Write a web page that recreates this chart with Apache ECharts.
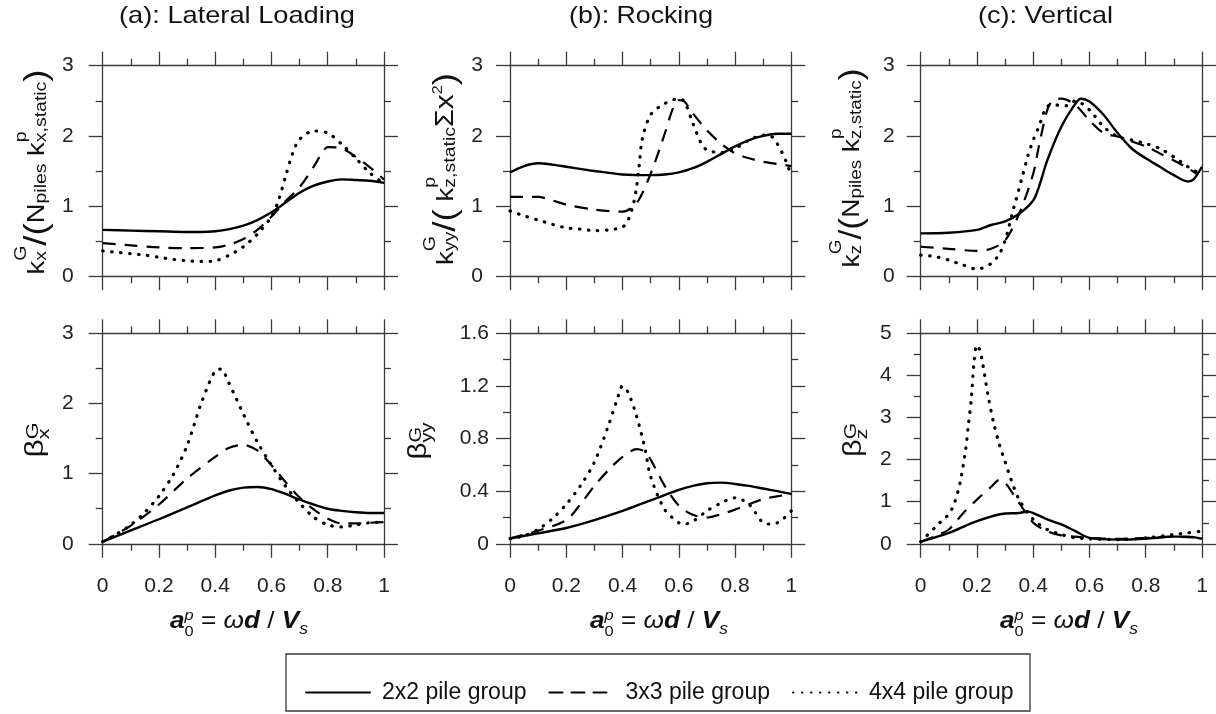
<!DOCTYPE html>
<html>
<head>
<meta charset="utf-8">
<title>Pile group impedance functions</title>
<script src="https://cdn.jsdelivr.net/npm/echarts@6/dist/echarts.min.js"></script>
<style>
  html, body { margin: 0; padding: 0; background: #fff; }
  #chart { width: 1216px; height: 714px; }
</style>
</head>
<body>
<div id="chart"></div>
<script>
// axis ranges [min, max, interval]
const xRange = [0, 1, 0.2];
const kRange = [0, 3, 1];
const betaXRange = [0, 3, 1];
const betaYYRange = [0, 1.6, 0.4];
const betaZRange = [0, 5, 1];

const groupNames = ['2x2 pile group', '3x3 pile group', '4x4 pile group'];
const panelTitles = ['(a): Lateral Loading', '(b): Rocking', '(c): Vertical'];

// (a) lateral stiffness, [a0, value]
const kxSolid = [[0,0.66],[0.1,0.65],[0.2,0.64],[0.3,0.63],[0.35,0.63],[0.4,0.64],[0.45,0.67],[0.5,0.72],[0.55,0.80],[0.6,0.91],[0.65,1.05],[0.7,1.19],[0.75,1.29],[0.8,1.35],[0.85,1.38],[0.9,1.37],[0.95,1.36],[1,1.33]];
const kxDash = [[0,0.47],[0.1,0.44],[0.2,0.41],[0.3,0.40],[0.4,0.41],[0.45,0.45],[0.5,0.53],[0.55,0.66],[0.6,0.85],[0.65,1.07],[0.7,1.27],[0.75,1.56],[0.78,1.76],[0.8,1.84],[0.85,1.82],[0.9,1.70],[0.95,1.55],[1,1.38]];
const kxDot = [[0,0.36],[0.05,0.34],[0.1,0.32],[0.15,0.30],[0.2,0.27],[0.25,0.24],[0.3,0.22],[0.35,0.21],[0.4,0.22],[0.45,0.30],[0.5,0.42],[0.55,0.60],[0.6,0.85],[0.625,1.08],[0.65,1.42],[0.675,1.75],[0.7,1.95],[0.75,2.07],[0.8,2.04],[0.85,1.88],[0.9,1.68],[0.95,1.47],[1,1.32]];
// (a) lateral damping
const bxSolid = [[0,0.03],[0.1,0.19],[0.2,0.35],[0.3,0.52],[0.4,0.69],[0.45,0.76],[0.5,0.80],[0.55,0.81],[0.6,0.78],[0.65,0.71],[0.7,0.63],[0.75,0.56],[0.8,0.50],[0.85,0.47],[0.9,0.45],[0.95,0.44],[1,0.44]];
const bxDash = [[0,0.03],[0.1,0.26],[0.2,0.56],[0.3,0.93],[0.4,1.24],[0.45,1.37],[0.5,1.41],[0.55,1.33],[0.6,1.12],[0.65,0.88],[0.7,0.66],[0.75,0.49],[0.8,0.36],[0.85,0.29],[0.9,0.29],[0.95,0.30],[1,0.31]];
const bxDot = [[0,0.03],[0.05,0.14],[0.1,0.27],[0.15,0.45],[0.2,0.68],[0.25,0.98],[0.3,1.40],[0.35,2.00],[0.4,2.47],[0.42,2.49],[0.45,2.28],[0.5,1.85],[0.55,1.45],[0.6,1.12],[0.65,0.82],[0.7,0.58],[0.75,0.38],[0.8,0.27],[0.85,0.24],[0.9,0.27],[0.95,0.30],[1,0.31]];
// (b) rocking stiffness
const kyySolid = [[0,1.48],[0.05,1.57],[0.1,1.61],[0.15,1.59],[0.2,1.56],[0.3,1.50],[0.4,1.45],[0.5,1.44],[0.55,1.45],[0.6,1.48],[0.65,1.54],[0.7,1.63],[0.75,1.74],[0.8,1.85],[0.85,1.94],[0.9,2.00],[0.95,2.03],[1,2.03]];
const kyyDash = [[0,1.13],[0.1,1.13],[0.15,1.08],[0.2,1.02],[0.3,0.95],[0.4,0.92],[0.45,1.04],[0.5,1.46],[0.55,2.03],[0.58,2.40],[0.6,2.51],[0.62,2.49],[0.65,2.32],[0.7,2.08],[0.75,1.89],[0.8,1.75],[0.85,1.68],[0.9,1.63],[0.95,1.60],[1,1.57]];
const kyyDot = [[0,0.93],[0.05,0.86],[0.1,0.80],[0.15,0.74],[0.2,0.69],[0.25,0.67],[0.3,0.65],[0.35,0.66],[0.4,0.70],[0.42,0.80],[0.44,1.05],[0.45,1.27],[0.46,1.60],[0.47,1.95],[0.5,2.30],[0.55,2.46],[0.6,2.53],[0.62,2.49],[0.65,2.18],[0.68,1.89],[0.7,1.80],[0.75,1.76],[0.8,1.82],[0.85,1.94],[0.9,2.01],[0.93,1.99],[0.95,1.89],[0.98,1.65],[1,1.42]];
// (b) rocking damping
const byySolid = [[0,0.04],[0.1,0.08],[0.2,0.12],[0.3,0.18],[0.4,0.25],[0.5,0.33],[0.6,0.41],[0.65,0.44],[0.7,0.46],[0.75,0.465],[0.8,0.455],[0.85,0.44],[0.9,0.42],[0.95,0.40],[1,0.38]];
const byyDash = [[0,0.04],[0.1,0.10],[0.2,0.18],[0.25,0.30],[0.3,0.44],[0.35,0.56],[0.4,0.66],[0.45,0.72],[0.48,0.70],[0.5,0.64],[0.55,0.44],[0.6,0.29],[0.65,0.22],[0.7,0.20],[0.75,0.225],[0.8,0.26],[0.85,0.30],[0.9,0.34],[0.95,0.36],[1,0.38]];
const byyDot = [[0,0.04],[0.05,0.06],[0.1,0.11],[0.15,0.19],[0.2,0.30],[0.25,0.44],[0.3,0.62],[0.35,0.90],[0.38,1.09],[0.4,1.20],[0.42,1.15],[0.45,0.97],[0.48,0.72],[0.5,0.51],[0.55,0.26],[0.6,0.16],[0.62,0.15],[0.65,0.17],[0.7,0.25],[0.75,0.31],[0.8,0.35],[0.85,0.30],[0.9,0.16],[0.93,0.15],[0.96,0.17],[1,0.25]];
// (c) vertical stiffness
const kzSolid = [[0,0.61],[0.1,0.62],[0.2,0.66],[0.25,0.73],[0.3,0.78],[0.35,0.89],[0.4,1.08],[0.42,1.27],[0.45,1.65],[0.5,2.13],[0.55,2.46],[0.57,2.53],[0.6,2.49],[0.65,2.30],[0.7,2.04],[0.75,1.82],[0.8,1.68],[0.85,1.56],[0.9,1.44],[0.95,1.35],[0.97,1.38],[1,1.56]];
const kzDash = [[0,0.42],[0.1,0.39],[0.2,0.36],[0.25,0.39],[0.3,0.51],[0.35,0.89],[0.4,1.46],[0.42,1.85],[0.45,2.37],[0.47,2.51],[0.5,2.53],[0.55,2.44],[0.6,2.22],[0.65,2.04],[0.7,1.99],[0.75,1.92],[0.8,1.85],[0.85,1.75],[0.9,1.65],[0.95,1.54],[0.98,1.46]];
const kzDot = [[0,0.30],[0.05,0.28],[0.1,0.23],[0.15,0.16],[0.2,0.10],[0.25,0.18],[0.28,0.32],[0.3,0.51],[0.33,0.96],[0.36,1.40],[0.38,1.70],[0.4,1.94],[0.42,2.13],[0.45,2.42],[0.48,2.44],[0.5,2.43],[0.52,2.43],[0.55,2.50],[0.6,2.37],[0.65,2.13],[0.7,1.99],[0.75,1.94],[0.8,1.89],[0.85,1.82],[0.9,1.70],[0.95,1.56],[0.98,1.49]];
// (c) vertical damping
const bzSolid = [[0,0.05],[0.1,0.26],[0.2,0.54],[0.3,0.72],[0.35,0.73],[0.38,0.77],[0.4,0.73],[0.45,0.58],[0.5,0.46],[0.55,0.30],[0.6,0.14],[0.7,0.10],[0.8,0.12],[0.9,0.17],[0.95,0.17],[1,0.12]];
const bzDash = [[0,0.05],[0.05,0.18],[0.1,0.34],[0.15,0.72],[0.2,1.05],[0.25,1.35],[0.28,1.52],[0.3,1.45],[0.33,1.17],[0.35,0.97],[0.4,0.50],[0.45,0.30],[0.5,0.20],[0.55,0.17],[0.6,0.14],[0.7,0.12],[0.8,0.14],[0.9,0.17],[1,0.14]];
const bzDot = [[0,0.05],[0.05,0.38],[0.08,0.58],[0.1,0.70],[0.12,0.97],[0.14,1.45],[0.16,2.25],[0.17,2.85],[0.18,3.45],[0.19,4.35],[0.2,4.72],[0.21,4.60],[0.22,4.30],[0.24,3.50],[0.26,2.85],[0.28,2.35],[0.3,1.95],[0.32,1.55],[0.35,1.05],[0.4,0.58],[0.45,0.34],[0.5,0.22],[0.55,0.14],[0.6,0.12],[0.7,0.10],[0.8,0.14],[0.9,0.22],[0.95,0.26],[1,0.30]];

const FONT = '"Liberation Sans", Arial, sans-serif';
const frame = '#3a3a3a';

// panels in order a-top, b-top, c-top, a-bottom, b-bottom, c-bottom
const panels = [
  { left: 102.7, top: 65.7, y: kRange, margin: 29, lines: [kxSolid, kxDash, kxDot] },
  { left: 510, top: 65.7, y: kRange, margin: 27, lines: [kyySolid, kyyDash, kyyDot] },
  { left: 920.7, top: 65.7, y: kRange, margin: 26, lines: [kzSolid, kzDash, kzDot] },
  { left: 102.7, top: 333.3, y: betaXRange, margin: 29, lines: [bxSolid, bxDash, bxDot], xLabels: true },
  { left: 510, top: 333.3, y: betaYYRange, margin: 21, lines: [byySolid, byyDash, byyDot], xLabels: true },
  { left: 920.7, top: 333.3, y: betaZRange, margin: 29, lines: [bzSolid, bzDash, bzDot], xLabels: true }
];

const lineStyles = [
  { color: '#000', width: 2.4, type: 'solid' },
  { color: '#000', width: 2.2, type: [13, 9] },
  { color: '#000', width: 3.2, type: [0.5, 8.5], cap: 'round' }
];

const fmt = v => String(Math.round(v * 10) / 10);

function axisCommon(range, showLabel, margin) {
  return {
    type: 'value', min: range[0], max: range[1], interval: range[2],
    axisLine: { show: true, onZero: false, lineStyle: { color: frame, width: 1.3 } },
    axisTick: { show: true, inside: false, length: 14, lineStyle: { color: frame, width: 1.3 } },
    minorTick: { show: true, splitNumber: 2, length: 7, lineStyle: { color: frame, width: 1.3 } },
    splitLine: { show: false },
    axisLabel: { show: showLabel, margin: margin, fontSize: 21, fontFamily: FONT, color: '#222', formatter: fmt }
  };
}

const grid = [], xAxis = [], yAxis = [], series = [];
panels.forEach((p, i) => {
  grid.push({ left: p.left, top: p.top, width: 281.3, height: 210.5 });
  xAxis.push(Object.assign(axisCommon(xRange, !!p.xLabels, 32), { gridIndex: i, position: 'bottom' }));
  xAxis.push(Object.assign(axisCommon(xRange, false, 8), { gridIndex: i, position: 'top' }));
  yAxis.push(Object.assign(axisCommon(p.y, true, p.margin), { gridIndex: i, position: 'left' }));
  yAxis.push(Object.assign(axisCommon(p.y, false, 8), { gridIndex: i, position: 'right' }));
  p.lines.forEach((data, j) => {
    series.push({
      name: groupNames[j], type: 'line', xAxisIndex: i * 2, yAxisIndex: i * 2,
      data: data, smooth: 0.3, symbol: 'none', showSymbol: false,
      itemStyle: { color: '#000' }, lineStyle: lineStyles[j], z: 3 - j
    });
  });
});

// small text layout helper for labels with sub/superscripts
const mctx = document.createElement('canvas').getContext('2d');
function cssFont(q) {
  return (q.it ? 'italic ' : '') + (q.b ? 'bold ' : '') + q.s + 'px ' + FONT;
}
function formula(parts, x, y, length, rotate) {
  let cursor = 0;
  const pieces = [];
  parts.forEach(p => {
    let w = 0;
    (p.stack || [p]).forEach(q => {
      mctx.font = cssFont(q);
      w = Math.max(w, mctx.measureText(q.t).width);
      pieces.push({ q: q, x: cursor });
    });
    cursor += w;
  });
  return {
    type: 'group', x: x, y: y, rotation: rotate ? Math.PI / 2 : 0,
    scaleX: length / cursor, silent: true,
    children: pieces.map(({ q, x }) => ({
      type: 'text', x: x - cursor / 2, y: (q.dy || 0) - 0.35 * q.s,
      style: {
        text: q.t, fontSize: q.s, fontFamily: FONT,
        fontStyle: q.it ? 'italic' : 'normal', fontWeight: q.b ? 'bold' : 'normal',
        fill: '#111', align: 'left', verticalAlign: 'middle'
      }
    }))
  };
}

const sup = t => ({ t: t, s: 17, dy: -19 });
const sub = t => ({ t: t, s: 17, dy: 1 });
const kxName = [{ t: 'k', s: 24 }, { stack: [sup('G'), sub('x')] }, { t: '/(', s: 32, dy: 2 }, { t: 'N', s: 24 },
  sub('piles'), { t: ' k', s: 24 }, { stack: [sup('p'), sub('x,static')] }, { t: ')', s: 32, dy: 2 }];
const kyyName = [{ t: 'k', s: 24 }, { stack: [sup('G'), sub('yy')] }, { t: '/(', s: 32, dy: 2 }, { t: ' k', s: 24 },
  { stack: [sup('p'), sub('z,static')] }, { t: 'Σ', s: 25 }, { t: 'x', s: 26 }, { t: '2', s: 14, dy: -12 }, { t: ')', s: 32, dy: 2 }];
const kzName = [{ t: 'k', s: 24 }, { stack: [sup('G'), sub('z')] }, { t: '/(', s: 32, dy: 2 }, { t: 'N', s: 24 },
  sub('piles'), { t: ' k', s: 24 }, { stack: [sup('p'), sub('z,static')] }, { t: ')', s: 32, dy: 2 }];
const betaName = s => [{ t: 'β', s: 25 }, { stack: [{ t: 'G', s: 17, dy: -6 }, { t: s, s: 17, dy: 5 }] }];
const a0Name = [{ t: 'a', s: 24, it: 1, b: 1 }, { stack: [{ t: 'p', s: 15, it: 1, dy: -9 }, { t: '0', s: 15, dy: 7 }] },
  { t: ' = ', s: 24 }, { t: 'ω', s: 24, it: 1 }, { t: 'd', s: 24, it: 1, b: 1 }, { t: ' / ', s: 24 },
  { t: 'V', s: 24, it: 1, b: 1 }, { t: 's', s: 16, it: 1, dy: 5 }];

const graphic = [
  formula([{ t: panelTitles[0], s: 24 }], 237, 25, 236, false),
  formula([{ t: panelTitles[1], s: 24 }], 641, 25, 144, false),
  formula([{ t: panelTitles[2], s: 24 }], 1045.5, 25, 135, false),
  formula(kxName, 46, 172, 205, true),
  formula(kyyName, 455, 169, 192, true),
  formula(kzName, 861, 168, 199, true),
  formula(betaName('x'), 45, 440, 35, true),
  formula(betaName('yy'), 428, 441, 37, true),
  formula(betaName('z'), 863, 440, 34, true),
  formula(a0Name, 239, 630, 138, false),
  formula(a0Name, 659, 630, 138, false),
  formula(a0Name, 1069, 630, 138, false),
  { type: 'rect', silent: true, shape: { x: 286, y: 654, width: 744, height: 57 },
    style: { fill: 'none', stroke: frame, lineWidth: 1.3 } }
];

const chart = echarts.init(document.getElementById('chart'));
chart.setOption({
  animation: false,
  backgroundColor: '#fff',
  grid: grid,
  xAxis: xAxis,
  yAxis: yAxis,
  series: series,
  graphic: graphic,
  legend: {
    data: groupNames, left: 300, top: 676, itemWidth: 64, itemHeight: 14, itemGap: 22,
    selectedMode: false,
    itemStyle: { opacity: 0 },
    lineStyle: { cap: 'round' },
    textStyle: { fontSize: 23, fontFamily: FONT, color: '#111', padding: [0, 0, 0, 7] }
  }
});
</script>
</body>
</html>
